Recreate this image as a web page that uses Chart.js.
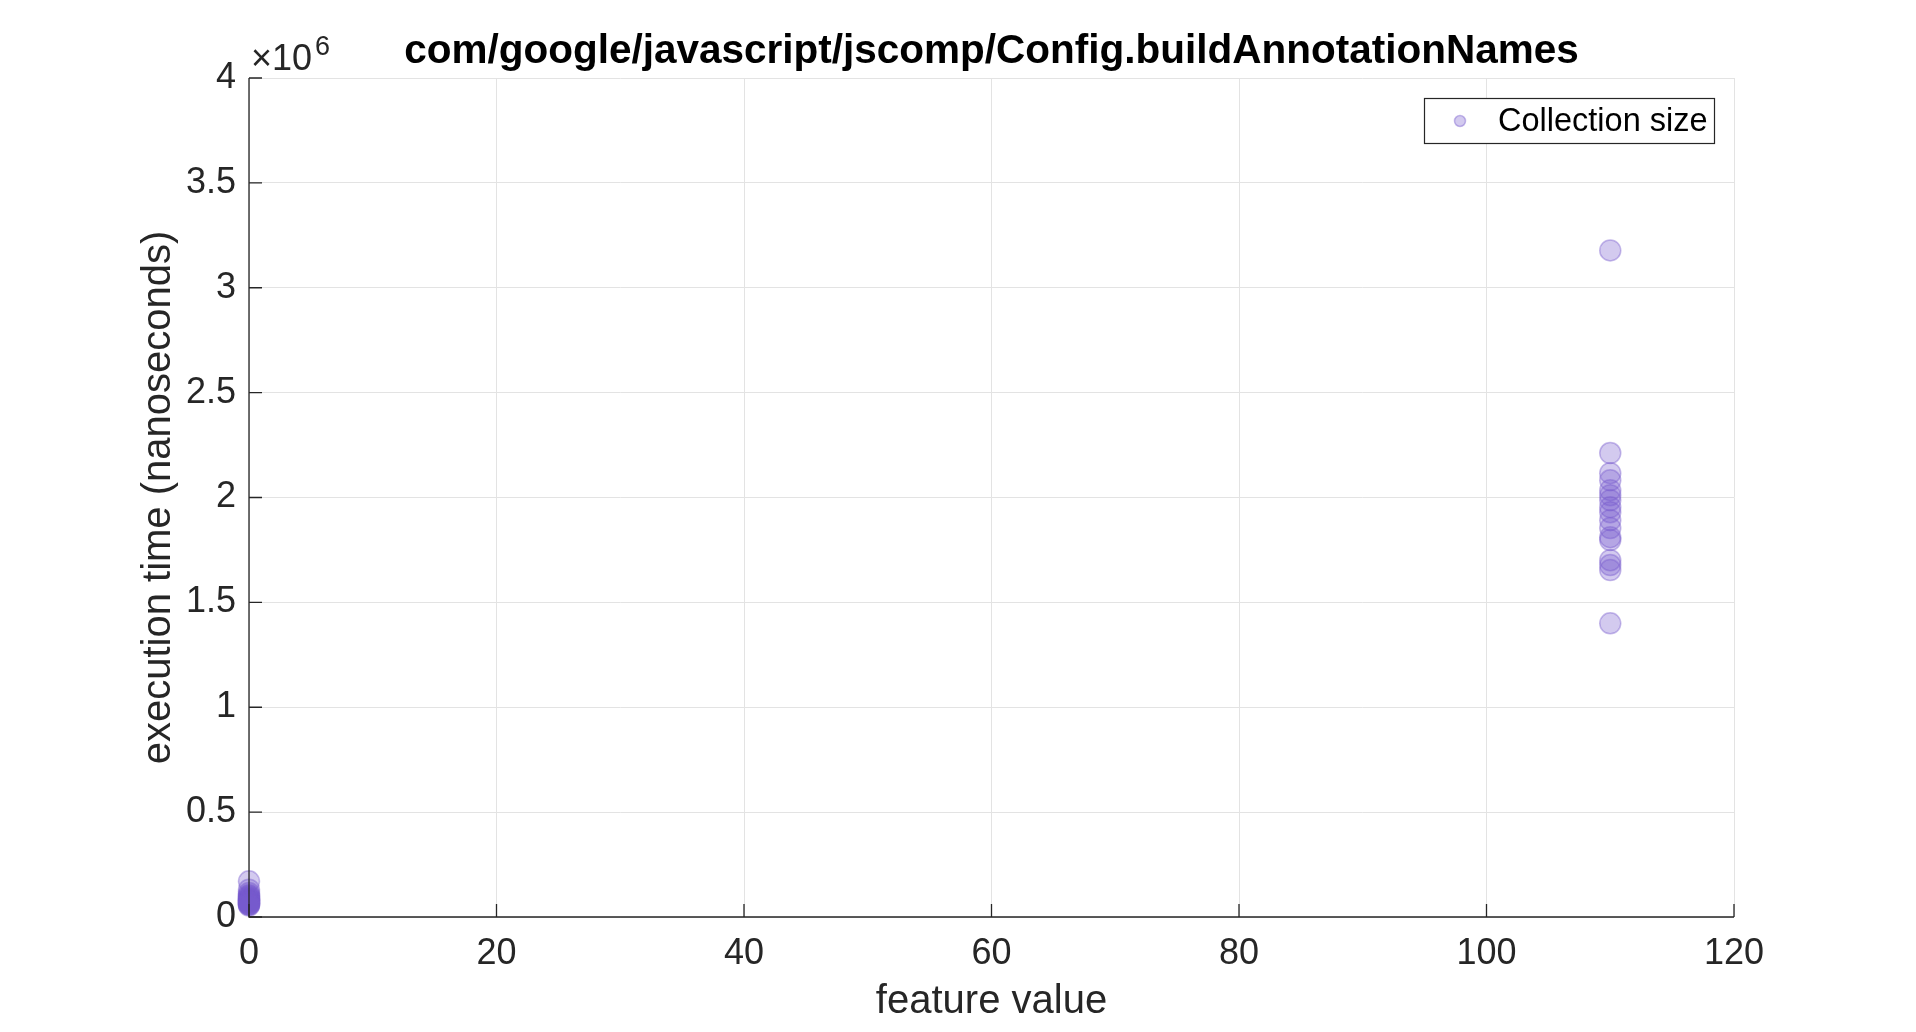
<!DOCTYPE html>
<html>
<head>
<meta charset="utf-8">
<script src="https://cdn.jsdelivr.net/npm/chart.js@4/dist/chart.umd.min.js"></script>
<style>
  html, body { margin: 0; padding: 0; background: #fff; }
  #wrap { width: 1916px; height: 1032px; position: relative; }
</style>
</head>
<body>
<div id="wrap"><canvas id="c" width="1916" height="1032"></canvas></div>
<script>
// ---- data (execution time in nanoseconds) ----
const titleText = 'com/google/javascript/jscomp/Config.buildAnnotationNames';
const seriesLabel = 'Collection size';
const xTickValues = [0, 20, 40, 60, 80, 100, 120];
const yTickLabels = ['0', '0.5', '1', '1.5', '2', '2.5', '3', '3.5', '4'];
const featureZeroTimes = [170000, 130000, 115000, 105000, 100000, 95000, 90000, 88000, 85000, 82000,
  80000, 78000, 75000, 72000, 70000, 68000, 65000, 63000, 60000, 58000, 55000];
const feature110Times = [3178000, 2212000, 2116000, 2082000, 2035000, 2011000, 1987000, 1954000,
  1930000, 1892000, 1854000, 1811000, 1797000, 1701000, 1678000, 1654000, 1400000];
const featureValues = [0, 110];

const points = [];
featureZeroTimes.forEach(v => points.push({x: featureValues[0], y: v}));
feature110Times.forEach(v => points.push({x: featureValues[1], y: v}));

const FONT = '"Liberation Sans", Arial, Helvetica, sans-serif';
const purple = 'rgba(118, 90, 205, 0.32)';
const purpleEdge = 'rgba(118, 90, 205, 0.42)';

const CA = {left: 249, right: 1734, top: 78, bottom: 917};

const decorPlugin = {
  id: 'decor',
  afterDraw(chart) {
    const ctx = chart.ctx;
    const {left, right, top, bottom} = chart.chartArea;
    const xs = chart.scales.x, ys = chart.scales.y;
    ctx.save();
    // axes lines
    ctx.strokeStyle = '#262626';
    ctx.lineWidth = 1.3;
    ctx.beginPath();
    ctx.moveTo(left, top); ctx.lineTo(left, bottom); ctx.lineTo(right, bottom);
    ctx.stroke();
    // inward tick marks
    ctx.beginPath();
    xTickValues.forEach(v => { const px = xs.getPixelForValue(v); ctx.moveTo(px, bottom); ctx.lineTo(px, bottom - 13); });
    yTickLabels.forEach((t, i) => { const py = ys.getPixelForValue(i * 500000); ctx.moveTo(left, py); ctx.lineTo(left + 13, py); });
    ctx.stroke();
    // exponent label
    ctx.fillStyle = '#262626';
    ctx.textBaseline = 'alphabetic';
    ctx.textAlign = 'left';
    ctx.font = '36px ' + FONT;
    ctx.fillText('\u00d710', left + 2, top - 8);
    const w = ctx.measureText('\u00d710').width;
    ctx.font = '27px ' + FONT;
    ctx.fillText('6', left + 2 + w + 3, top - 23);
    // legend box
    const lx = 1424, ly = 98, lw = 290, lh = 45;
    ctx.fillStyle = '#ffffff';
    ctx.fillRect(lx, ly, lw, lh);
    ctx.strokeStyle = '#262626';
    ctx.lineWidth = 1.2;
    ctx.strokeRect(lx + 0.5, ly + 0.5, lw, lh);
    ctx.beginPath();
    ctx.arc(1460, ly + lh / 2 + 0.5, 5.5, 0, Math.PI * 2);
    ctx.fillStyle = purple; ctx.fill();
    ctx.strokeStyle = purpleEdge; ctx.lineWidth = 1.5; ctx.stroke();
    ctx.fillStyle = '#000';
    ctx.font = '32.5px ' + FONT;
    ctx.textBaseline = 'middle';
    ctx.fillText(chart.data.datasets[0].label, 1498, ly + lh / 2 + 2);
    ctx.restore();
  }
};

new Chart(document.getElementById('c'), {
  type: 'scatter',
  data: {
    datasets: [{
      label: seriesLabel,
      data: points,
      backgroundColor: purple,
      borderColor: purpleEdge,
      borderWidth: 1.5,
      pointRadius: 10.5,
      pointHoverRadius: 10.5,
      clip: false
    }]
  },
  options: {
    responsive: false,
    animation: false,
    devicePixelRatio: 1,
    layout: { padding: { left: 0, right: 1916 - CA.right, top: 0, bottom: 0 } },
    plugins: {
      legend: { display: false },
      tooltip: { enabled: false },
      title: {
        display: true,
        text: titleText,
        fullSize: false,
        color: '#000',
        font: { family: FONT, size: 40.5, weight: 'bold', lineHeight: 1.2 },
        padding: { top: 27.5, bottom: CA.top - 27.5 - 40.5 * 1.2 }
      }
    },
    scales: {
      x: {
        type: 'linear',
        min: 0, max: 120,
        afterBuildTicks: s => { s.ticks = xTickValues.map(v => ({value: v})); },
        afterFit: s => { s.height = 1032 - CA.bottom; },
        grid: { color: '#e3e3e3', lineWidth: 1, drawTicks: false },
        border: { display: false },
        ticks: { color: '#262626', font: { family: FONT, size: 36 }, padding: 15, maxRotation: 0,
                 callback: v => String(v) },
        title: { display: true, text: 'feature value', color: '#262626',
                 font: { family: FONT, size: 40, lineHeight: 1.2 }, padding: { top: 6, bottom: 6 } }
      },
      y: {
        type: 'linear',
        min: 0, max: 4000000,
        afterBuildTicks: s => { s.ticks = yTickLabels.map((t, i) => ({value: i * 500000})); },
        afterFit: s => { s.width = CA.left; },
        grid: { color: '#e3e3e3', lineWidth: 1, drawTicks: false },
        border: { display: false },
        ticks: { color: '#262626', font: { family: FONT, size: 36 }, padding: 13,
                 callback: (v, i) => yTickLabels[i] },
        title: { display: true, text: 'execution time (nanoseconds)', color: '#262626',
                 font: { family: FONT, size: 40, lineHeight: 1.2 }, padding: { top: 135, bottom: 0 } }
      }
    }
  },
  plugins: [decorPlugin]
});
</script>
</body>
</html>
